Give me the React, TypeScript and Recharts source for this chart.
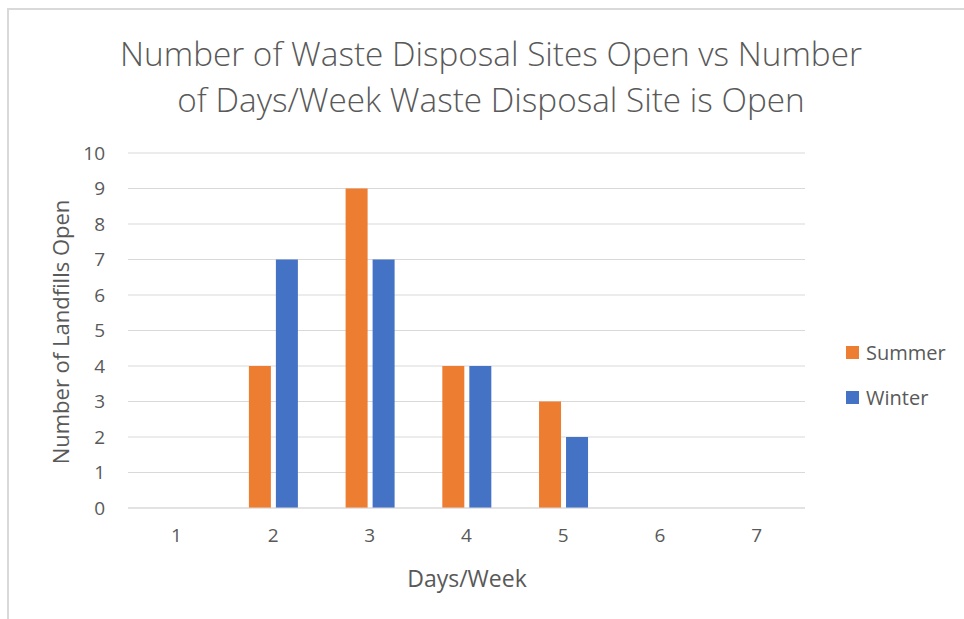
import { Bar, BarChart, CartesianGrid, XAxis, YAxis } from "recharts";

const days = ["1", "2", "3", "4", "5", "6", "7"];
const summer = [0, 4, 9, 4, 3, 0, 0];
const winter = [0, 7, 7, 4, 2, 0, 0];
const yTicks = [0, 1, 2, 3, 4, 5, 6, 7, 8, 9, 10];

const ORANGE = "#ED7D31";
const BLUE = "#4472C4";
const GRID = "#d9d9d9";
const TEXT = "#595959";
const FONT = "'Open Sans', Lato, sans-serif";

const data = days.map((d, i) => ({ day: d, Summer: summer[i], Winter: winter[i] }));

const legendItems = [
  { name: "Summer", color: ORANGE },
  { name: "Winter", color: BLUE },
];

export default function App() {
  return (
    <div style={{ position: "absolute", left: 0, top: 0, width: 964, height: 619, overflow: "hidden", background: "#fff", fontFamily: FONT }}>
      <div style={{ position: "absolute", left: 7, top: 8, width: 1000, height: 700, border: "2px solid #d9d9d9", boxSizing: "border-box" }} />
      <div style={{ position: "absolute", left: 41, top: 30, width: 900, textAlign: "center", fontSize: 33.3, fontWeight: 300, color: TEXT, lineHeight: "46px" }}>
        Number of Waste Disposal Sites Open vs Number
        <br />
        of Days/Week Waste Disposal Site is Open
      </div>
      <div style={{ position: "absolute", left: 60, top: 332, transform: "translate(-50%, -50%) rotate(-90deg)", whiteSpace: "nowrap", fontSize: 22, color: TEXT }}>
        Number of Landfills Open
      </div>
      <div style={{ position: "absolute", left: 467, top: 578, transform: "translate(-50%, -50%)", whiteSpace: "nowrap", fontSize: 23, color: TEXT }}>
        Days/Week
      </div>
      {/* legend, right of the plot */}
      <div style={{ position: "absolute", left: 846, top: 330, fontSize: 20, color: TEXT }}>
        {legendItems.map((it) => (
          <div key={it.name} style={{ display: "flex", alignItems: "center", height: 45 }}>
            <span style={{ width: 13, height: 13, background: it.color, marginRight: 7, display: "inline-block" }} />
            {it.name}
          </div>
        ))}
      </div>
      <div style={{ position: "absolute", left: 0, top: 0 }}>
        <BarChart
          width={964}
          height={619}
          data={data}
          margin={{ top: 153, right: 159, bottom: 71, left: 78 }}
          barCategoryGap="25%"
          barGap={5}
        >
          <CartesianGrid stroke={GRID} vertical={false} />
          <XAxis
            dataKey="day"
            tickLine={false}
            axisLine={{ stroke: GRID }}
            tick={{ fill: TEXT, fontSize: 19, fontFamily: FONT }}
            tickMargin={15}
            height={40}
          />
          <YAxis
            domain={[0, 10]}
            ticks={yTicks}
            interval={0}
            width={50}
            tickLine={false}
            axisLine={false}
            tick={{ fill: TEXT, fontSize: 19, fontFamily: FONT }}
            tickMargin={17}
          />
          <Bar dataKey="Summer" fill={ORANGE} isAnimationActive={false} />
          <Bar dataKey="Winter" fill={BLUE} isAnimationActive={false} />
        </BarChart>
      </div>
    </div>
  );
}
